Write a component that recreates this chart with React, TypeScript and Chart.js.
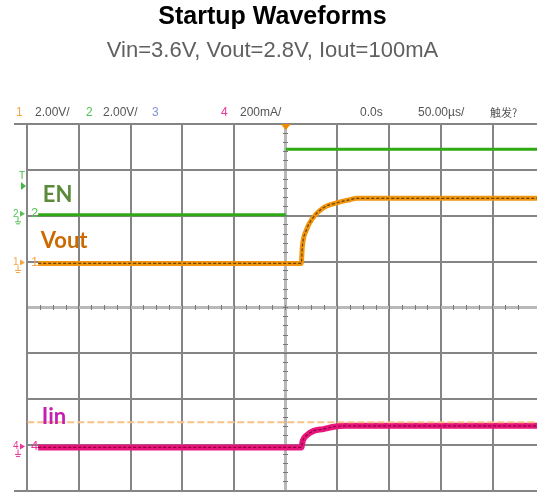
import React, { useEffect, useRef } from "react";
import { Chart, registerables } from "chart.js";

Chart.register(...registerables);

// ---- Data (x in horizontal divisions from left edge, y in vertical divisions from centre) ----
const xMax = 9.86;

const enX = [0.21, 5.0, 5.0, 5.0, 9.86];
const enY: (number | null)[] = [2.02, 2.02, null, 3.45, 3.45];

const voutX = [0.21, 5.3, 5.32, 5.4, 5.51, 5.72, 5.98, 6.24, 6.38, 9.86];
const voutY = [0.96, 0.96, 1.32, 1.69, 1.93, 2.17, 2.28, 2.35, 2.38, 2.38];

const iinX = [0.21, 5.3, 5.33, 5.41, 5.54, 5.73, 5.93, 6.15, 9.86];
const iinY = [-3.05, -3.05, -2.9, -2.78, -2.69, -2.65, -2.6, -2.58, -2.58];

const refX = [0, 9.86];
const refY = [-2.5, -2.5];

const labelTexts = ["EN", "Vout", "Iin"];
const labelX = [0.3, 0.26, 0.28];
const labelY = [2.45, 1.45, -2.39];

const titleText = "Startup Waveforms";
const subtitleText = "Vin=3.6V, Vout=2.8V, Iout=100mA";

const pts = (xs: number[], ys: (number | null)[]) => xs.map((x, i) => ({ x, y: ys[i] }));

const NARROW = "'Liberation Sans Narrow', 'Liberation Sans', Arial, sans-serif";

const scopePlugin = {
  id: "scopeText",
  afterDatasetsDraw(chart: any) {
    const { ctx, scales, chartArea } = chart;
    const x = scales.x;
    const y = scales.y;
    ctx.save();
    const labelColors = ["#5b8a3a", "#cc6a00", "#c41fb0"];
    ctx.textAlign = "left";
    ctx.textBaseline = "middle";
    labelTexts.forEach((t, i) => {
      ctx.font = "bold 22px Lato, 'Open Sans', sans-serif";
      ctx.fillStyle = labelColors[i];
      ctx.fillText(t, x.getPixelForValue(labelX[i]), y.getPixelForValue(labelY[i]));
    });

    // extensions of top / bottom frame lines to the left
    ctx.strokeStyle = "#858585";
    ctx.lineWidth = 2;
    ctx.beginPath();
    ctx.moveTo(14, chartArea.top);
    ctx.lineTo(chartArea.left, chartArea.top);
    ctx.moveTo(14, chartArea.bottom);
    ctx.lineTo(chartArea.left, chartArea.bottom);
    ctx.stroke();

    // header line
    const hy = chartArea.top - 11;
    const header: [string, number, string, number][] = [
      ["1", 16, "#f5a545", 12],
      ["2.00V/", 35, "#555555", 12],
      ["2", 86, "#55c055", 12],
      ["2.00V/", 103, "#555555", 12],
      ["3", 152, "#8090d8", 12],
      ["4", 221, "#ee3399", 12],
      ["200mA/", 240, "#555555", 12],
      ["0.0s", 360, "#555555", 12],
      ["50.00µs/", 418, "#555555", 12],
      ["触发?", 490, "#555555", 11],
    ];
    header.forEach(([t, px, c, s]) => {
      ctx.font = s === 11 ? "11px 'Noto Sans CJK SC', sans-serif" : `${s}px ${NARROW}`;
      ctx.fillStyle = c;
      ctx.fillText(t, px, hy);
    });

    // trigger marker on top
    const cx = x.getPixelForValue(5);
    ctx.fillStyle = "#f08a00";
    ctx.beginPath();
    ctx.moveTo(cx - 5, chartArea.top);
    ctx.lineTo(cx + 5, chartArea.top);
    ctx.lineTo(cx, chartArea.top + 6);
    ctx.closePath();
    ctx.fill();

    // channel markers on left
    const markers: [string, number, string][] = [
      ["2", y.getPixelForValue(enY[0] as number), "#55c055"],
      ["1", y.getPixelForValue(voutY[0]), "#f5a545"],
      ["4", y.getPixelForValue(iinY[0]), "#ee3399"],
    ];
    markers.forEach(([t, py, c]) => {
      ctx.fillStyle = c;
      ctx.font = `13px ${NARROW}`;
      ctx.fillText(t, 31, py - 1);
      ctx.font = `10px ${NARROW}`;
      ctx.fillText(t, 13, py - 1);
      ctx.beginPath();
      ctx.moveTo(20, py - 4);
      ctx.lineTo(25, py - 1);
      ctx.lineTo(20, py + 2);
      ctx.closePath();
      ctx.fill();
      ctx.strokeStyle = c;
      ctx.lineWidth = 1;
      ctx.beginPath();
      ctx.moveTo(18, py + 2);
      ctx.lineTo(18, py + 7);
      ctx.moveTo(15, py + 7);
      ctx.lineTo(21, py + 7);
      ctx.moveTo(16, py + 9);
      ctx.lineTo(20, py + 9);
      ctx.stroke();
    });
    // trigger level marker
    ctx.fillStyle = "#44b844";
    ctx.font = `10px ${NARROW}`;
    ctx.fillText("T", 19, 176);
    ctx.beginPath();
    ctx.moveTo(21, 182);
    ctx.lineTo(26, 186);
    ctx.lineTo(21, 190);
    ctx.closePath();
    ctx.fill();
    ctx.restore();
  },
};

export default function App() {
  const ref = useRef<HTMLCanvasElement | null>(null);
  useEffect(() => {
    if (!ref.current) return;
    const gridColor = "#858585";
    const centreColor = "#b9b9b9";
    const chart = new Chart(ref.current, {
      type: "line",
      data: {
        datasets: [
          { data: pts(voutX, voutY), borderColor: "#6e4000", borderWidth: 1.2, borderDash: [3, 2], pointRadius: 0, cubicInterpolationMode: "monotone", xAxisID: "x", yAxisID: "y" },
          { data: pts(voutX, voutY), borderColor: "#f0960f", borderWidth: 5, pointRadius: 0, cubicInterpolationMode: "monotone", xAxisID: "x", yAxisID: "y" },
          { data: pts(iinX, iinY), borderColor: "#8c0040", borderWidth: 1.2, borderDash: [3, 2], pointRadius: 0, cubicInterpolationMode: "monotone", xAxisID: "x", yAxisID: "y" },
          { data: pts(refX, refY), borderColor: "#f7c285", borderWidth: 2, borderDash: [7, 3], pointRadius: 0, xAxisID: "x", yAxisID: "y" },
          { data: pts(iinX, iinY), borderColor: "#e8157c", borderWidth: 6, pointRadius: 0, cubicInterpolationMode: "monotone", xAxisID: "x", yAxisID: "y" },
          { data: pts(enX, enY), borderColor: "#2faa14", borderWidth: 3, pointRadius: 0, spanGaps: false, xAxisID: "x", yAxisID: "y" },
        ] as any,
      },
      options: {
        responsive: false,
        animation: false,
        devicePixelRatio: 1,
        layout: { padding: { left: 8, right: 0, top: 0, bottom: 3 } },
        plugins: {
          legend: { display: false },
          tooltip: { enabled: false },
          title: {
            display: true,
            text: titleText,
            color: "#000000",
            font: { family: "'Liberation Sans', Arial, sans-serif", size: 25, weight: "bold", lineHeight: 1.2 },
            padding: { top: 2, bottom: 6 },
          },
          subtitle: {
            display: true,
            text: subtitleText,
            color: "#606060",
            font: { family: "'Liberation Sans', Arial, sans-serif", size: 22, weight: "normal", lineHeight: 1.2 },
            padding: { top: 0, bottom: 59.6 },
          },
        },
        scales: {
          x: {
            type: "linear",
            position: "bottom",
            min: 0,
            max: xMax,
            afterBuildTicks: (s: any) => {
              s.ticks = s.ticks.filter((t: any) => Math.abs(t.value - Math.round(t.value)) < 1e-9);
            },
            ticks: { display: false, stepSize: 1 },
            grid: {
              drawTicks: false,
              color: (c: any) => (c.tick && c.tick.value === 5 ? centreColor : gridColor),
              lineWidth: (c: any) => (c.tick && c.tick.value === 5 ? 3 : 2),
            },
            border: { display: true, color: gridColor, width: 2 },
          },
          y: {
            type: "linear",
            position: "left",
            min: -4,
            max: 4,
            afterFit: (s: any) => {
              s.width = 19.3;
            },
            ticks: { display: false, stepSize: 1 },
            grid: {
              drawTicks: false,
              color: (c: any) => (c.tick && c.tick.value === 0 ? centreColor : gridColor),
              lineWidth: (c: any) => (c.tick && c.tick.value === 0 ? 3 : 2),
            },
            border: { display: true, color: gridColor, width: 2 },
          },
          xc: {
            type: "linear",
            axis: "x",
            min: 0,
            max: xMax,
            position: { y: 0.055 },
            ticks: { display: false, stepSize: 0.25, maxTicksLimit: 1000 },
            grid: { drawOnChartArea: false, drawTicks: true, tickLength: 5, tickWidth: 1, tickColor: "#777777" },
            border: { display: false },
          },
          yc: {
            type: "linear",
            axis: "y",
            min: -4,
            max: 4,
            position: { x: 5.048 },
            ticks: { display: false, stepSize: 0.2, maxTicksLimit: 1000 },
            grid: { drawOnChartArea: false, drawTicks: true, tickLength: 5, tickWidth: 1, tickColor: "#777777" },
            border: { display: false },
          },
        } as any,
      },
      plugins: [scopePlugin],
    } as any);
    return () => chart.destroy();
  }, []);
  return (
    <div style={{ position: "absolute", left: 0, top: 0, width: 537, height: 494, background: "#fff" }}>
      <canvas ref={ref} width={537} height={494} style={{ display: "block" }} />
    </div>
  );
}
